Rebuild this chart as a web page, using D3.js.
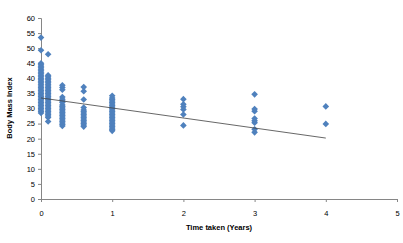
<!DOCTYPE html>
<html>
<head>
<meta charset="utf-8">
<script src="https://cdn.jsdelivr.net/npm/d3@7"></script>
<style>
  body { margin: 0; background: #fff; }
  svg { display: block; font-family: "Liberation Sans", Arial, sans-serif; }
</style>
</head>
<body>
<div id="chart"></div>
<script>
// time taken (years) for each column of points
const timeTaken = [0, 0.1, 0.3, 0.6, 1, 2, 3, 4];

// body mass index values, one list per time column
const bmi0 = [28.5, 29, 29.5, 30, 30.5, 31, 31.5, 32, 32.5, 33, 33.5, 34, 34.5, 35, 35.5, 36, 36.5, 37, 37.5, 38, 38.5, 39, 39.5, 40, 40.5, 41, 41.5, 42, 42.5, 43, 43.5, 44, 44.5, 45, 49.3, 53.5];
const bmi01 = [25.7, 27, 27.5, 28, 28.5, 29, 29.5, 30, 30.5, 31, 31.5, 32, 32.5, 33, 33.5, 34, 34.5, 35, 35.5, 36, 36.5, 37, 37.5, 38, 38.5, 39, 39.5, 40, 40.5, 41, 48];
const bmi03 = [24.2, 24.7, 25.2, 25.7, 26.2, 26.7, 27.2, 27.7, 28.2, 28.7, 29.2, 29.7, 30.2, 30.7, 31.2, 32, 32.5, 33.1, 33.8, 36.2, 37, 37.7];
const bmi06 = [24, 24.5, 25, 25.5, 26, 26.5, 27, 27.5, 28, 28.5, 29, 29.5, 30.3, 33, 35.7, 37.1];
const bmi1 = [22.6, 23, 23.5, 24, 24.5, 25, 25.5, 26, 26.5, 27, 27.5, 28, 28.5, 29, 29.5, 30, 30.5, 31, 31.5, 32, 32.5, 33, 33.5, 34.2];
const bmi2 = [24.4, 28, 29.7, 30.6, 31.4, 33.1];
const bmi3 = [22.1, 23.1, 25.3, 25.9, 26.7, 29.1, 29.8, 34.7];
const bmi4 = [24.9, 30.7];
const bmiColumns = [bmi0, bmi01, bmi03, bmi06, bmi1, bmi2, bmi3, bmi4];

// linear trend line end points
const trendX = [0, 4];
const trendY = [33.5, 20.2];

// tick labels
const xTicks = [0, 1, 2, 3, 4, 5];
const yTicks = [0, 5, 10, 15, 20, 25, 30, 35, 40, 45, 50, 55, 60];

const width = 403, height = 243;

let points = [];
bmiColumns.forEach((col, i) => {
    col.forEach(v => points.push({ x: timeTaken[i], y: v }));
});

const xScale = d3.scaleLinear().domain([0, 5]).range([41, 397]);
const yScale = d3.scaleLinear().domain([0, 60]).range([199, 18]);

let svg = d3.select("#chart").append("svg")
    .attr("width", width).attr("height", height);

// axes
let yAxis = svg.append("g")
    .attr("transform", `translate(${xScale(0)},0)`)
    .call(d3.axisLeft(yScale).tickValues(yTicks).tickFormat(d3.format("d")).tickSize(3).tickPadding(3));

let xAxis = svg.append("g")
    .attr("transform", `translate(0,${yScale(0)})`)
    .call(d3.axisBottom(xScale).tickValues(xTicks).tickFormat(d3.format("d")).tickSize(3).tickPadding(9));

[xAxis, yAxis].forEach(a => {
    a.select(".domain").attr("stroke", "#868686");
    a.selectAll(".tick line").attr("stroke", "#868686");
    a.selectAll(".tick text")
        .attr("fill", "#000")
        .style("font-size", "7.5px");
});

// points - excel style diamonds (square turned 45 degrees)
const diamond = d3.symbol().type(d3.symbolSquare).size(22);
svg.append("g")
    .selectAll("path")
    .data(points)
    .enter()
    .append("path")
    .attr("d", diamond)
    .attr("transform", d => `translate(${xScale(d.x)},${yScale(d.y)}) rotate(45)`)
    .attr("fill", "#4f81bd");

// trend line
svg.append("line")
    .attr("x1", xScale(trendX[0])).attr("y1", yScale(trendY[0]))
    .attr("x2", xScale(trendX[1])).attr("y2", yScale(trendY[1]))
    .attr("stroke", "#404040")
    .attr("stroke-width", 0.8);

// axis titles
svg.append("text")
    .text("Time taken (Years)")
    .attr("x", 219).attr("y", 230)
    .attr("text-anchor", "middle")
    .style("font-size", "7.5px")
    .style("font-weight", "bold");

svg.append("text")
    .text("Body Mass Index")
    .attr("transform", "translate(12,108) rotate(-90)")
    .attr("text-anchor", "middle")
    .style("font-size", "7.5px")
    .style("font-weight", "bold");
</script>
</body>
</html>
